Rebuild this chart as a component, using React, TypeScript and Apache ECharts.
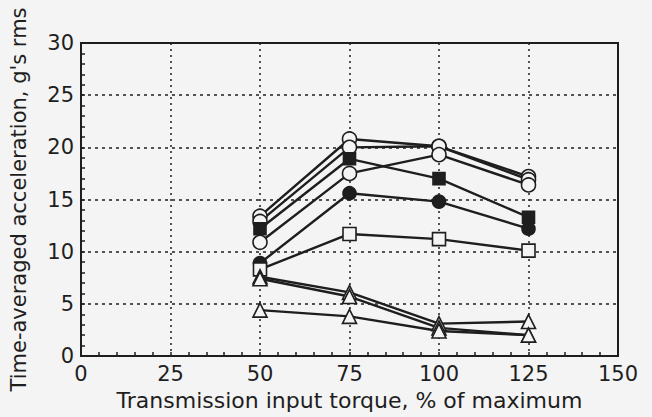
import React, { useEffect, useRef } from "react";
import * as echarts from "echarts";

const torque = [50, 75, 100, 125];
const xTicks = [0, 25, 50, 75, 100, 125, 150];
const yTicks = [0, 5, 10, 15, 20, 25, 30];

const openCircleA = [13.4, 20.8, 20.1, 17.2];
const openCircleB = [12.9, 20.0, 20.1, 16.9];
const filledSquare = [12.2, 18.9, 17.0, 13.3];
const openCircleC = [10.9, 17.5, 19.3, 16.4];
const filledCircle = [8.9, 15.6, 14.8, 12.2];
const openSquare = [8.3, 11.7, 11.2, 10.1];
const triangleA = [7.6, 6.1, 3.1, 3.3];
const triangleB = [7.4, 5.7, 2.7, 2.0];
const triangleC = [4.4, 3.8, 2.4, 2.0];

const BG = "#f4f4f4";
const INK = "#1e1e1e";
const FONT = "DejaVu Sans, Verdana, sans-serif";

type S = { name: string; data: number[]; symbol: string; filled: boolean; size: number };
const seriesDefs: S[] = [
  { name: "Open circle A", data: openCircleA, symbol: "circle", filled: false, size: 14 },
  { name: "Open circle B", data: openCircleB, symbol: "circle", filled: false, size: 14 },
  { name: "Filled square", data: filledSquare, symbol: "rect", filled: true, size: 12 },
  { name: "Open circle C", data: openCircleC, symbol: "circle", filled: false, size: 14 },
  { name: "Filled circle", data: filledCircle, symbol: "circle", filled: true, size: 13 },
  { name: "Open square", data: openSquare, symbol: "rect", filled: false, size: 13 },
  { name: "Triangle A", data: triangleA, symbol: "triangle", filled: false, size: 14 },
  { name: "Triangle B", data: triangleB, symbol: "triangle", filled: false, size: 14 },
  { name: "Triangle C", data: triangleC, symbol: "triangle", filled: false, size: 14 },
];

export default function App() {
  const ref = useRef<HTMLDivElement>(null);
  useEffect(() => {
    document.body.style.margin = "0";
    if (!ref.current) return;
    const chart = echarts.init(ref.current, undefined, { renderer: "svg" });
    chart.setOption({
      animation: false,
      backgroundColor: BG,
      grid: {
        left: 81,
        right: 34,
        top: 43,
        bottom: 61,
        show: true,
        borderColor: INK,
        borderWidth: 2,
        backgroundColor: "transparent",
      },
      xAxis: {
        type: "value",
        min: xTicks[0],
        max: xTicks[xTicks.length - 1],
        interval: 25,
        name: "Transmission input torque, % of maximum",
        nameLocation: "middle",
        nameGap: 33,
        nameTextStyle: { fontFamily: FONT, fontSize: 22, color: INK },
        axisLine: { show: true, lineStyle: { color: INK, width: 2 } },
        axisTick: { show: true, inside: true, length: 4, lineStyle: { color: INK, width: 1.5 } },
        minorTick: { show: true, splitNumber: 5, length: 4, lineStyle: { color: INK, width: 1.5 } },
        axisLabel: { fontFamily: FONT, fontSize: 21, color: INK, margin: 7 },
        splitLine: { show: true, lineStyle: { color: INK, width: 1.5, type: [2, 4] } },
      },
      yAxis: {
        type: "value",
        min: yTicks[0],
        max: yTicks[yTicks.length - 1],
        interval: 5,
        name: "Time-averaged acceleration, g's rms",
        nameLocation: "middle",
        nameGap: 52,
        nameTextStyle: { fontFamily: FONT, fontSize: 21, color: INK },
        axisLine: { show: true, lineStyle: { color: INK, width: 2 } },
        axisTick: { show: true, inside: true, length: 4, lineStyle: { color: INK, width: 1.5 } },
        minorTick: { show: true, splitNumber: 5, length: 4, lineStyle: { color: INK, width: 1.5 } },
        axisLabel: { fontFamily: FONT, fontSize: 21, color: INK, margin: 7 },
        splitLine: { show: true, lineStyle: { color: INK, width: 1.5, type: [3, 4] } },
      },
      series: seriesDefs.map((s) => ({
        name: s.name,
        type: "line",
        data: torque.map((x, i) => [x, s.data[i]]),
        symbol: s.symbol,
        symbolSize: s.size,
        showAllSymbol: true,
        lineStyle: { color: INK, width: 2.4 },
        itemStyle: { color: s.filled ? INK : BG, borderColor: INK, borderWidth: 1.6 },
        emphasis: { disabled: true },
        z: 3,
      })),
    });
    return () => chart.dispose();
  }, []);
  return <div ref={ref} style={{ width: 652, height: 417 }} />;
}
